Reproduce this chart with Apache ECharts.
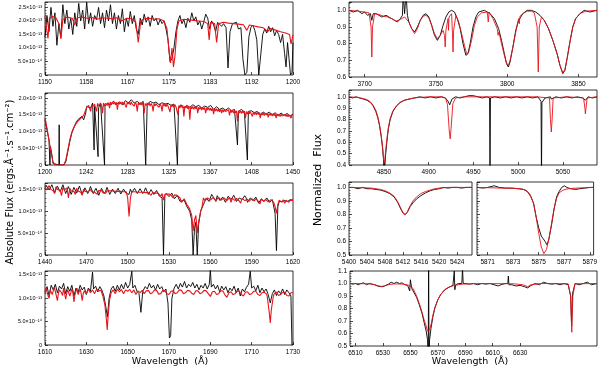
<!DOCTYPE html>
<html>
<head>
<meta charset="utf-8">
<script src="https://cdn.jsdelivr.net/npm/echarts@6/dist/echarts.min.js"></script>
<style>
  html, body { margin: 0; padding: 0; background: #fff; }
  #main { width: 600px; height: 368px; }
</style>
</head>
<body>
<div id="main"></div>
<script>
// ---- absolute flux panels (units of 1e-13 erg/s/cm2/A) ----
// black = observed, red = model
const l1Obs = [[1150,1.40],[1150.4,2.20],[1150.8,1.60],[1151.2,2.50],[1151.6,1.80],[1152,2.30],[1152.4,1.10],[1152.8,1.90],[1153.2,1.40],[1153.6,2.60],[1154,1.90],[1154.4,2.40],[1154.8,1.70],[1155.2,2.10],[1155.6,1.50],[1156,2.30],[1156.4,1.80],[1156.8,2.65],[1157.2,2.00],[1157.6,2.40],[1158,1.70],[1158.4,2.70],[1158.8,1.90],[1159.2,2.30],[1159.6,1.80],[1160,2.20],[1160.4,2.05],[1160.8,2.50],[1161.2,1.90],[1161.6,2.30],[1162,1.75],[1162.4,2.40],[1162.8,2.00],[1163.2,2.60],[1163.6,1.90],[1164,2.30],[1164.4,1.70],[1164.8,2.20],[1165.2,1.90],[1165.6,2.45],[1166,1.60],[1166.4,2.10],[1166.8,1.80],[1167.2,2.35],[1167.6,1.90],[1168,2.20],[1168.4,1.70],[1168.8,1.50],[1169.2,2.10],[1169.6,1.85],[1170,2.25],[1170.4,1.95],[1170.8,2.15],[1171.2,1.80],[1171.6,2.20],[1172,2.00],[1172.4,2.10],[1172.8,1.85],[1173.2,2.05],[1173.6,1.90],[1174,2.00],[1174.4,1.70],[1174.8,1.30],[1175.2,0.50],[1175.6,0.60],[1176,1.00],[1176.4,1.60],[1176.8,2.00],[1177.2,2.20],[1177.6,1.90],[1178,2.05],[1178.4,1.75],[1178.8,2.10],[1179.2,1.95],[1179.6,2.30],[1180,2.00],[1180.4,2.15],[1180.8,1.85],[1181.2,2.00],[1181.6,1.70],[1182,1.95],[1182.4,2.25],[1182.8,2.10],[1183.2,1.70],[1183.6,2.00],[1184,1.85],[1184.4,1.60],[1184.8,1.95],[1185.2,2.00],[1185.6,1.80],[1186,1.90],[1186.5,1.75],[1186.9,0.26],[1187.3,1.60],[1187.8,1.90],[1188.2,1.85],[1188.6,1.95],[1189,1.70],[1189.5,1.75],[1189.9,0.60],[1190.3,0.00],[1190.7,0.10],[1191.1,1.40],[1191.5,1.75],[1191.9,1.85],[1192.3,1.65],[1192.7,1.30],[1193.1,0.00],[1193.5,0.05],[1193.9,1.50],[1194.3,1.70],[1194.7,1.55],[1195.1,1.80],[1195.5,1.60],[1195.9,1.75],[1196.3,1.45],[1196.7,1.65],[1197.1,1.50],[1197.5,1.20],[1197.9,1.50],[1198.3,0.80],[1198.6,0.30],[1198.9,1.20],[1199.2,0.60],[1199.5,0.00],[1199.8,0.10],[1200,1.20]];
const l1Mod = [[1150,2.18],[1150.4,2.15],[1150.6,1.35],[1150.9,2.10],[1151.5,2.16],[1152.2,2.12],[1152.8,1.90],[1153.2,1.33],[1153.6,2.05],[1154.5,2.14],[1155.5,2.10],[1156,1.85],[1156.5,2.12],[1157.5,2.14],[1158.5,2.10],[1159.5,2.13],[1160.5,2.06],[1161.5,2.12],[1162.5,2.10],[1163.5,2.08],[1164.5,2.12],[1165.5,2.00],[1166.5,2.10],[1167.5,2.08],[1168.3,1.95],[1168.8,1.20],[1169.3,2.00],[1170,2.08],[1171,2.10],[1172,2.06],[1173,2.08],[1174,2.00],[1174.6,1.70],[1175,0.90],[1175.3,0.45],[1175.6,1.00],[1175.9,0.30],[1176.2,0.70],[1176.6,1.70],[1177,2.00],[1178,2.06],[1179,2.04],[1180,2.02],[1181,2.00],[1182,1.98],[1182.8,1.90],[1183.1,1.30],[1183.4,1.95],[1184.2,1.90],[1184.6,1.20],[1185,1.90],[1186,1.95],[1187,1.92],[1188,1.90],[1189,1.88],[1190,1.86],[1190.7,1.65],[1191.2,1.85],[1192,1.82],[1193,1.78],[1194,1.75],[1194.9,1.60],[1195.5,1.72],[1196.5,1.66],[1197.5,1.60],[1198.5,1.55],[1199.3,1.50],[1199.6,1.15],[1200,1.48]];

const l2Obs = [[1200,1.35],[1202,1.05],[1204,0.75],[1205,0.0],[1205.5,0.55],[1207,0.30],[1208,0.05],[1210,0.0],[1214,0.0],[1214.3,1.20],[1214.6,0.0],[1219,0.0],[1221,0.10],[1223,0.40],[1225,0.70],[1227,0.95],[1229,1.10],[1231,1.25],[1233,1.35],[1235,1.30],[1237,1.45],[1239,1.35],[1241,1.55],[1242,1.75],[1244,1.80],[1246,1.70],[1248,1.85],[1249.5,0.45],[1250,1.75],[1252,1.80],[1253.5,0.25],[1254,1.70],[1256,1.85],[1258,1.80],[1260,0.0],[1260.5,1.75],[1263,1.85],[1266,1.80],[1269,1.90],[1272,1.82],[1275,1.88],[1278,1.80],[1281,1.92],[1284,1.85],[1287,1.95],[1290,1.85],[1293,1.90],[1296,1.82],[1299,1.90],[1301.5,0.0],[1302.5,0.0],[1303,1.80],[1306,1.90],[1309,1.85],[1312,1.88],[1315,1.80],[1318,1.86],[1321,1.82],[1324,1.84],[1327,1.78],[1330,1.82],[1333.5,0.0],[1334.5,1.70],[1337,1.80],[1340,1.70],[1343,1.78],[1346,1.72],[1349,1.80],[1352,1.74],[1355,1.78],[1358,1.70],[1361,1.76],[1364,1.72],[1367,1.78],[1370,1.66],[1373,1.74],[1376,1.66],[1379,1.70],[1382,1.64],[1385,1.70],[1388,1.62],[1391,1.66],[1394,0.60],[1395,1.60],[1398,1.66],[1401,1.58],[1404,0.15],[1405,1.60],[1408,1.62],[1411,1.56],[1414,1.60],[1417,1.50],[1420,1.58],[1423,1.52],[1426,1.58],[1429,1.50],[1432,1.56],[1435,1.48],[1438,1.55],[1441,1.48],[1444,1.54],[1447,1.46],[1450,1.52]];
const l2Mod = [[1200,1.40],[1202,1.10],[1204,0.75],[1206,0.40],[1208,0.10],[1210,0.0],[1219,0.0],[1221,0.15],[1223,0.45],[1225,0.75],[1227,0.98],[1229,1.12],[1231,1.22],[1233,1.30],[1235,1.36],[1237,1.42],[1239,1.48],[1241,1.52],
  [1242,1.72],[1244,1.78],[1246,1.60],[1247,1.80],[1248,1.74],[1250,1.82],[1251,1.70],[1252,1.60],[1253,1.84],[1254,1.76],[1256,1.85],[1257,1.78],[1258,1.55],[1259,1.85],[1260,1.76],[1261,1.84],[1262,1.86],[1263,1.78],[1264,1.86],[1265,1.70],[1266,1.88],[1267,1.80],[1268,1.88],[1269,1.82],[1270,1.88],[1271,1.80],[1272,1.87],[1273,1.65],[1274,1.88],[1275,1.81],[1276,1.88],[1277,1.82],[1278,1.88],[1279,1.80],[1280,1.87],[1281,1.78],[1282,1.72],[1283,1.88],[1284,1.82],[1285,1.88],[1286,1.80],[1287,1.88],[1288,1.82],[1289,1.87],[1290,1.76],[1291,1.88],[1292,1.81],[1293,1.60],[1294,1.86],[1295,1.80],[1296,1.87],[1297,1.79],[1298,1.86],[1299,1.78],[1300,1.55],[1301,1.84],[1302,1.78],[1303,1.85],[1304,1.79],[1305,1.85],[1306,1.76],[1307,1.84],[1308,1.78],[1309,1.60],[1310,1.84],[1311,1.77],[1312,1.84],[1313,1.78],[1314,1.83],[1315,1.72],[1316,1.83],[1317,1.77],[1318,1.60],[1319,1.82],[1320,1.76],[1321,1.82],[1322,1.74],[1323,1.82],[1324,1.76],[1325,1.81],[1326,1.58],[1327,1.80],[1328,1.74],[1329,1.81],[1330,1.72],[1331,1.80],[1332,1.74],[1333,1.79],[1334,1.50],[1335,1.78],[1336,1.70],[1337,1.79],[1338,1.72],[1339,1.78],[1340,1.45],[1341,1.76],[1342,1.70],[1343,1.77],[1344,1.68],[1345,1.76],[1346,1.35],[1347,1.75],[1348,1.68],[1349,1.75],[1350,1.66],[1351,1.74],[1352,1.68],[1353,1.74],[1354,1.55],[1355,1.73],[1356,1.66],[1357,1.73],[1358,1.64],[1359,1.72],[1360,1.66],[1361,1.72],[1362,1.55],[1363,1.71],[1364,1.64],[1365,1.71],[1366,1.63],[1367,1.70],[1368,1.62],[1369,1.69],[1370,1.52],[1371,1.68],[1372,1.61],[1373,1.68],[1374,1.60],[1375,1.67],[1376,1.59],[1377,1.67],[1378,1.55],[1379,1.66],[1380,1.58],[1381,1.66],[1382,1.60],[1383,1.65],[1384,1.57],[1385,1.65],[1386,1.48],[1387,1.64],[1388,1.57],[1389,1.64],[1390,1.55],[1391,1.63],[1392,1.56],[1393,1.62],[1394,1.30],[1395,1.62],[1396,1.55],[1397,1.62],[1398,1.54],[1399,1.61],[1400,1.55],[1401,1.61],[1402,1.40],[1403,1.60],[1404,1.52],[1405,1.60],[1406,1.53],[1407,1.59],[1408,1.52],[1409,1.45],[1410,1.58],[1411,1.51],[1412,1.58],[1413,1.50],[1414,1.57],[1415,1.51],[1416,1.57],[1417,1.40],[1418,1.56],[1419,1.49],[1420,1.56],[1421,1.48],[1422,1.55],[1423,1.49],[1424,1.55],[1425,1.42],[1426,1.54],[1427,1.48],[1428,1.54],[1429,1.46],[1430,1.53],[1431,1.47],[1432,1.53],[1433,1.40],[1434,1.52],[1435,1.46],[1436,1.52],[1437,1.45],[1438,1.52],[1439,1.46],[1440,1.51],[1441,1.42],[1442,1.51],[1443,1.45],[1444,1.51],[1445,1.44],[1446,1.50],[1447,1.45],[1448,1.40],[1449,1.50],[1450,1.50]];

const l3Obs = [[1440,1.50],[1441,1.58],[1442,1.62],[1443,1.48],[1444,1.45],[1445,1.60],[1446,1.58],[1447,1.42],[1448,1.40],[1449,1.57],[1450,1.55],[1451,1.44],[1452,1.48],[1453,1.60],[1454,1.58],[1455,1.40],[1456,1.42],[1457,1.56],[1458,1.55],[1459,1.38],[1460,1.35],[1461,1.54],[1462,1.52],[1463,1.41],[1464,1.45],[1465,1.57],[1466,1.55],[1467,1.38],[1468,1.40],[1469,1.53],[1470,1.52],[1471,1.40],[1472,1.46],[1473,1.56],[1474,1.55],[1475,1.40],[1476,1.42],[1477,1.52],[1478,1.50],[1479,1.36],[1480,1.38],[1481,1.52],[1482,1.50],[1483,1.40],[1484,1.45],[1485,1.54],[1486,1.52],[1487,1.38],[1488,1.40],[1489,1.50],[1490,1.48],[1491,1.40],[1492,1.44],[1493,1.52],[1494,1.50],[1495,1.39],[1496,1.42],[1497,1.50],[1498,1.48],[1499,1.40],[1500,1.44],[1501,1.38],[1502,1.50],[1503,1.42],[1504,1.46],[1505,1.52],[1506,1.55],[1507,1.40],[1508,1.42],[1509,1.51],[1510,1.50],[1511,1.40],[1512,1.45],[1513,1.53],[1514,1.52],[1515,1.38],[1516,1.40],[1517,1.49],[1518,1.48],[1519,1.38],[1520,1.42],[1521,1.47],[1522,1.45],[1523,1.34],[1524,1.38],[1525,1.30],[1526,0.0],[1527,1.35],[1528,1.40],[1529,1.42],[1530,1.33],[1531,1.36],[1532,1.41],[1533,1.40],[1534,1.28],[1535,1.30],[1536,1.36],[1537,1.34],[1538,1.22],[1539,1.20],[1541,1.25],[1543,1.10],[1545,1.00],[1546.5,0.80],[1547.5,0.0],[1548.5,0.60],[1549.5,0.75],[1550.5,0.0],[1551.5,0.70],[1553,1.00],[1555,1.15],[1556,1.22],[1557,1.30],[1558,1.34],[1559,1.22],[1560,1.20],[1561,1.38],[1562,1.33],[1563,1.28],[1564,1.22],[1565,1.35],[1566,1.34],[1567,1.24],[1568,1.20],[1569,1.32],[1570,1.33],[1571,1.20],[1572,1.24],[1573,1.34],[1574,1.36],[1575,1.26],[1576,1.22],[1577,1.36],[1578,1.33],[1579,1.22],[1580,1.18],[1581,1.30],[1582,1.32],[1583,1.26],[1584,1.22],[1585,1.35],[1586,1.30],[1587,1.20],[1588,1.18],[1589,1.30],[1590,1.32],[1591,1.24],[1592,1.20],[1593,1.32],[1594,1.30],[1595,1.18],[1596,1.16],[1597,1.28],[1598,1.30],[1599,1.22],[1600,1.18],[1601,1.30],[1602,1.28],[1603,1.20],[1604,1.18],[1605,1.26],[1606,1.22],[1607,0.95],[1608,0.10],[1609,1.10],[1610,1.22],[1611,1.26],[1612,1.22],[1613,1.18],[1614,1.24],[1615,1.28],[1616,1.22],[1617,1.20],[1618,1.26],[1619,1.22],[1620,1.25]];
const l3Mod = [[1440,1.55],[1441,1.48],[1442,1.45],[1443,1.58],[1444,1.50],[1445,1.54],[1446,1.46],[1447,1.40],[1448,1.56],[1449,1.49],[1450,1.52],[1451,1.47],[1452,1.35],[1453,1.54],[1454,1.48],[1455,1.45],[1456,1.53],[1457,1.30],[1458,1.52],[1459,1.46],[1460,1.50],[1461,1.45],[1462,1.38],[1463,1.52],[1464,1.46],[1465,1.48],[1466,1.43],[1467,1.36],[1468,1.50],[1469,1.45],[1470,1.48],[1471,1.44],[1472,1.40],[1473,1.49],[1474,1.44],[1475,1.48],[1476,1.43],[1477,1.47],[1478,1.38],[1479,1.47],[1480,1.43],[1481,1.47],[1482,1.42],[1483,1.46],[1484,1.41],[1485,1.46],[1486,1.43],[1487,1.46],[1488,1.42],[1489,1.46],[1490,1.43],[1491,1.45],[1492,1.41],[1493,1.45],[1494,1.42],[1495,1.45],[1496,1.42],[1497,1.44],[1498,1.41],[1499,1.44],[1500,1.30],[1501,0.88],[1502,1.30],[1503,1.44],[1504,1.41],[1505,1.44],[1506,1.41],[1507,1.43],[1508,1.40],[1509,1.43],[1510,1.40],[1511,1.43],[1512,1.39],[1513,1.42],[1514,1.40],[1515,1.42],[1516,1.38],[1517,1.36],[1518,1.42],[1519,1.39],[1520,1.41],[1521,1.37],[1522,1.41],[1523,1.38],[1524,1.34],[1525,1.40],[1526,1.25],[1527,1.38],[1528,1.36],[1529,1.39],[1530,1.35],[1531,1.38],[1532,1.34],[1533,1.30],[1534,1.37],[1535,1.33],[1536,1.36],[1537,1.32],[1538,1.30],[1539,1.20],[1541,1.28],[1543,1.15],[1545,1.05],[1546.5,0.90],[1547.5,0.55],[1548.5,0.80],[1549.5,0.90],[1550.5,0.50],[1551.5,0.75],[1553,1.00],[1554,1.10],[1555,1.30],[1556,1.24],[1557,1.20],[1558,1.30],[1559,1.32],[1560,1.25],[1561,1.22],[1562,1.31],[1563,1.30],[1564,1.24],[1565,1.25],[1566,1.31],[1567,1.32],[1568,1.25],[1569,1.22],[1570,1.30],[1571,1.30],[1572,1.24],[1573,1.28],[1574,1.31],[1575,1.20],[1576,1.29],[1577,1.30],[1578,1.24],[1579,1.29],[1580,1.28],[1581,1.23],[1582,1.18],[1583,1.29],[1584,1.29],[1585,1.24],[1586,1.28],[1587,1.27],[1588,1.22],[1589,1.20],[1590,1.28],[1591,1.28],[1592,1.23],[1593,1.28],[1594,1.27],[1595,1.22],[1596,1.16],[1597,1.27],[1598,1.27],[1599,1.22],[1600,1.27],[1601,1.26],[1602,1.21],[1603,1.18],[1604,1.26],[1605,1.26],[1606,1.20],[1607,1.10],[1608,0.95],[1609,1.15],[1610,1.25],[1611,1.25],[1612,1.20],[1613,1.26],[1614,1.18],[1615,1.25],[1616,1.25],[1617,1.20],[1618,1.25],[1619,1.22],[1620,1.24]];

const l4Obs = [[1610,1.15],[1611,1.25],[1612,1.05],[1613,1.28],[1614,1.18],[1615,1.30],[1616,1.12],[1617,1.26],[1618,1.20],[1619,1.32],[1620,1.10],[1621,1.25],[1622,1.15],[1623,1.28],[1624,1.05],[1625,1.22],[1626,1.12],[1627,1.28],[1628,1.18],[1629,1.24],[1630,1.08],[1631,1.22],[1632,1.15],[1633,1.56],[1633.5,1.20],[1634.5,1.26],[1635.5,1.14],[1636.5,1.25],[1637.5,1.18],[1638.5,1.05],[1639.5,0.80],[1640.2,0.60],[1641,1.00],[1642,1.20],[1643,1.26],[1644,1.15],[1645,1.28],[1646,1.18],[1647,1.30],[1648,1.20],[1649,1.34],[1650,1.22],[1651,1.30],[1652,1.58],[1652.5,1.22],[1653.5,1.28],[1654.5,1.15],[1655.5,1.10],[1656.4,0.70],[1657.3,1.15],[1658.5,1.25],[1659.5,1.20],[1660.5,1.32],[1661.5,1.22],[1662.5,1.28],[1663.5,1.18],[1664.5,1.30],[1665.5,1.20],[1666.5,1.25],[1667.5,1.14],[1668.5,1.20],[1669.5,0.90],[1670.2,0.15],[1670.8,0.20],[1671.4,1.00],[1672.5,1.22],[1673.5,1.30],[1674.5,1.20],[1675.5,1.32],[1676.5,1.24],[1677.5,1.36],[1678.5,1.22],[1679.5,1.30],[1680.5,1.25],[1681.5,1.34],[1682.5,1.22],[1683.5,1.30],[1684.5,1.18],[1685.5,1.28],[1686.5,1.22],[1687.5,1.32],[1688.5,1.20],[1689.5,1.30],[1690,1.62],[1690.5,1.24],[1691.5,1.30],[1692.5,1.20],[1693.5,1.28],[1694.5,1.14],[1695.5,1.26],[1696.5,1.18],[1697.5,1.25],[1698.5,1.12],[1699.5,1.22],[1700.5,1.16],[1701.5,1.26],[1702.5,1.12],[1703.5,1.22],[1704.5,1.05],[1705.5,1.20],[1706.5,1.14],[1707.5,1.24],[1708.5,1.30],[1709.3,1.58],[1710,1.22],[1711,1.26],[1712,1.16],[1713,1.28],[1714,1.12],[1715,1.22],[1716,1.14],[1717,1.20],[1718,1.08],[1719,0.90],[1720,1.10],[1721,1.18],[1722,1.06],[1723,1.16],[1724,1.10],[1725,1.20],[1726,1.08],[1727,1.18],[1728,1.12],[1729,1.05],[1729.5,0.0],[1730,0.0]];
const l4Mod = [[1610,1.10],[1610.5,1.22],[1611,1.22],[1611.5,1.05],[1612,1.00],[1612.5,1.18],[1613,1.20],[1613.5,1.08],[1614,1.10],[1614.5,1.24],[1615,1.25],[1615.5,1.05],[1616,0.95],[1616.5,1.12],[1617,1.18],[1617.5,1.22],[1618,1.12],[1618.5,1.06],[1619,1.22],[1619.5,1.18],[1620,0.98],[1620.5,1.10],[1621,1.18],[1621.5,1.22],[1622,1.05],[1622.5,1.12],[1623,1.20],[1623.5,1.12],[1624,0.92],[1624.5,1.08],[1625,1.15],[1625.5,1.22],[1626,1.08],[1626.5,1.14],[1627,1.20],[1627.5,1.10],[1628,0.95],[1628.5,1.10],[1629,1.16],[1629.5,1.20],[1630,1.10],[1631,1.20],[1632,1.12],[1633,1.18],[1634,1.10],[1635,1.20],[1636,1.15],[1637,1.18],[1638,1.05],[1639,0.85],[1639.7,0.55],[1640.1,0.32],[1640.5,0.60],[1641.2,0.95],[1642,1.12],[1643,1.18],[1644,1.10],[1645,1.20],[1646,1.14],[1647,1.19],[1648,1.10],[1649,1.18],[1650,1.15],[1651,1.19],[1652,1.12],[1653,1.18],[1654,1.08],[1655,1.16],[1656,1.12],[1657,1.17],[1658,1.10],[1659,1.16],[1660,1.17],[1661,1.10],[1662,1.12],[1663,1.18],[1664,1.17],[1665,1.09],[1666,1.10],[1667,1.17],[1668,1.16],[1669,1.10],[1670,1.08],[1671,1.15],[1672,1.16],[1673,1.10],[1674,1.12],[1675,1.18],[1676,1.17],[1677,1.10],[1678,1.12],[1679,1.17],[1680,1.16],[1681,1.11],[1682,1.08],[1683,1.16],[1684,1.16],[1685,1.10],[1686,1.12],[1687,1.17],[1688,1.16],[1689,1.10],[1690,1.04],[1691,1.14],[1692,1.15],[1693,1.08],[1694,1.10],[1695,1.16],[1696,1.16],[1697,1.08],[1698,1.02],[1699,1.12],[1700,1.14],[1701,1.08],[1702,1.10],[1703,1.16],[1704,1.15],[1705,1.08],[1706,1.05],[1707,1.13],[1708,1.14],[1709,1.08],[1710,1.10],[1711,1.15],[1712,1.15],[1713,1.08],[1714,1.06],[1715,1.12],[1716,1.13],[1717,1.10],[1717.5,1.05],[1718.5,0.70],[1719,0.47],[1719.5,0.75],[1720.5,1.05],[1721,1.10],[1722,1.13],[1723,1.06],[1724,1.08],[1725,1.13],[1726,1.13],[1727,1.06],[1728,1.05],[1729,1.12],[1730,1.12]];

// ---- normalized flux panels ----
const r1Obs = [[3689,1.00],[3692,0.99],[3695,1.00],[3698,0.98],[3700,0.99],[3702,0.97],[3704,0.98],[3705,0.94],[3706,0.98],[3708,0.98],[3710,0.97],[3712,0.96],[3713,0.95],[3715,0.97],[3717,0.96],[3719,0.95],[3721,0.94],[3723,0.93],[3725,0.95],[3726.5,0.97],[3727,1.10],[3728,0.98],[3729,1.10],[3730,0.97],[3731,0.93],[3733,0.89],[3735,0.87],[3737,0.90],[3739,0.94],[3741,0.97],[3743,0.98],[3745,0.96],[3747,0.91],[3749,0.85],[3751,0.82],[3753,0.85],[3755,0.91],[3757,0.96],[3759,0.99],[3761,1.00],[3763,0.99],[3765,0.95],[3767,0.89],[3769,0.80],[3771,0.73],[3772.5,0.74],[3774,0.80],[3776,0.90],[3778,0.96],[3780,0.99],[3784,1.00],[3788,0.98],[3791,0.95],[3794,0.89],[3796,0.82],[3798,0.74],[3799.5,0.68],[3800.8,0.66],[3802,0.69],[3804,0.78],[3806,0.88],[3808,0.94],[3811,0.98],[3814,1.00],[3817,1.00],[3820,0.99],[3823,0.97],[3826,0.94],[3829,0.89],[3832,0.82],[3835,0.74],[3837,0.67],[3839,0.62],[3840.5,0.64],[3842,0.71],[3844,0.81],[3846,0.90],[3848,0.95],[3851,0.98],[3854,1.00],[3858,0.99],[3863,1.00]];
const r1Mod = [[3689,1.00],[3695,0.995],[3700,0.99],[3703,0.985],[3704.5,0.90],[3705,0.72],[3705.5,0.90],[3707,0.98],[3710,0.975],[3713,0.965],[3716,0.96],[3719,0.95],[3722,0.935],[3725,0.945],[3728,0.96],[3731,0.93],[3733,0.89],[3735,0.86],[3737,0.89],[3739,0.94],[3741,0.965],[3743,0.97],[3745,0.955],[3747,0.91],[3749,0.86],[3751,0.83],[3753,0.85],[3755,0.88],[3756,0.85],[3756.5,0.78],[3757,0.88],[3758.5,0.95],[3758.8,0.88],[3759.2,0.96],[3761,0.98],[3761.6,0.86],[3762,0.75],[3762.4,0.88],[3764,0.97],[3766,0.93],[3768,0.86],[3770,0.79],[3771.5,0.74],[3773,0.75],[3775,0.82],[3777,0.91],[3779,0.96],[3782,0.985],[3786,0.99],[3786.7,0.93],[3787.3,0.99],[3790,0.95],[3793,0.89],[3793.6,0.85],[3794.2,0.87],[3796,0.80],[3798,0.73],[3799.5,0.685],[3800.8,0.67],[3802,0.70],[3804,0.78],[3806,0.87],[3808,0.95],[3808.5,0.92],[3809,0.965],[3811,0.98],[3814,0.995],[3817,0.995],[3819,0.985],[3821,0.90],[3821.8,0.63],[3822.5,0.90],[3824,0.96],[3826,0.94],[3829,0.89],[3832,0.82],[3835,0.74],[3837,0.67],[3839,0.625],[3840.5,0.645],[3842,0.71],[3844,0.81],[3846,0.90],[3848,0.95],[3851,0.98],[3855,0.995],[3863,1.00]];

const r2Obs = [[4811,1.00],[4815,0.99],[4819,1.00],[4823,0.99],[4827,0.98],[4831,0.97],[4835,0.95],[4838,0.92],[4841,0.87],[4843,0.82],[4845,0.75],[4847,0.65],[4848.5,0.55],[4849.5,0.45],[4850.2,0.30],[4851,0.30],[4852,0.50],[4853.5,0.62],[4855,0.72],[4857,0.80],[4860,0.87],[4864,0.92],[4868,0.95],[4873,0.97],[4878,0.98],[4884,0.99],[4890,1.00],[4896,0.99],[4902,1.00],[4908,0.99],[4914,1.00],[4918,0.99],[4921,0.97],[4923.5,0.93],[4926,0.98],[4930,1.00],[4935,0.99],[4940,1.00],[4945,1.01],[4950,1.01],[4955,1.00],[4960,0.99],[4965,1.00],[4968,0.99],[4968.5,0.30],[4969,0.99],[4974,1.00],[4980,0.99],[4986,1.00],[4992,0.99],[4998,1.00],[5004,0.99],[5010,1.00],[5016,0.99],[5022,1.00],[5025.5,0.96],[5026,0.30],[5026.5,0.95],[5030,0.99],[5036,1.00],[5037,0.98],[5042,1.00],[5048,0.99],[5054,1.00],[5060,0.99],[5066,1.00],[5072,0.99],[5075,0.97],[5078,1.00],[5083,0.99],[5088,1.00]];
const r2Mod = [[4811,1.00],[4820,0.995],[4827,0.985],[4831,0.975],[4835,0.955],[4838,0.925],[4841,0.88],[4843,0.83],[4845,0.76],[4847,0.66],[4848.5,0.56],[4849.5,0.47],[4850.2,0.42],[4851,0.45],[4852,0.53],[4853.5,0.64],[4855,0.73],[4857,0.81],[4860,0.875],[4864,0.92],[4868,0.95],[4873,0.97],[4878,0.98],[4884,0.99],[4890,0.995],[4900,1.00],[4915,1.00],[4919,0.99],[4921,0.93],[4923,0.70],[4924,0.63],[4925,0.72],[4927,0.94],[4930,0.99],[4940,1.00],[4960,1.00],[4980,1.00],[5000,1.00],[5020,1.00],[5035,0.99],[5036,0.80],[5037,0.69],[5038,0.82],[5039,0.99],[5055,1.00],[5073,0.99],[5074.5,0.90],[5075,0.85],[5076,0.92],[5077,0.99],[5088,1.00]];

const r3aObs = [[5400,1.00],[5401,1.00],[5402,0.99],[5403,1.00],[5404,0.99],[5405,0.99],[5406,0.985],[5407,0.98],[5408,0.97],[5409,0.955],[5410,0.93],[5410.8,0.89],[5411.5,0.84],[5412,0.81],[5412.5,0.80],[5413,0.82],[5413.6,0.86],[5414.3,0.89],[5415,0.915],[5416,0.94],[5417,0.96],[5418,0.975],[5419,0.985],[5420,0.99],[5421,1.00],[5422,0.995],[5423,1.00],[5424,1.00],[5425,0.995],[5426,1.00],[5427.3,1.00]];
const r3aMod = [[5400,1.00],[5403,0.998],[5405,0.995],[5406,0.99],[5407,0.985],[5408,0.975],[5409,0.96],[5410,0.935],[5410.8,0.895],[5411.5,0.845],[5412,0.81],[5412.4,0.795],[5412.9,0.815],[5413.5,0.86],[5414.2,0.90],[5415,0.93],[5416,0.955],[5417,0.97],[5418,0.98],[5419,0.99],[5420,0.995],[5422,1.00],[5427.3,1.00]];

const r3bObs = [[5870.2,1.00],[5870.6,0.995],[5871,1.00],[5871.5,1.012],[5871.9,1.00],[5872.4,0.995],[5872.9,0.995],[5873.4,0.99],[5873.8,0.985],[5874.1,0.97],[5874.4,0.93],[5874.6,0.88],[5874.8,0.78],[5875,0.70],[5875.2,0.64],[5875.35,0.62],[5875.5,0.60],[5875.65,0.575],[5875.8,0.62],[5876,0.72],[5876.2,0.84],[5876.4,0.93],[5876.6,0.97],[5876.8,1.00],[5877,1.012],[5877.2,1.00],[5877.5,0.99],[5877.9,0.985],[5878.2,0.99],[5878.6,0.995],[5879,1.00],[5879.3,1.00]];
const r3bMod = [[5870.2,1.00],[5871,0.998],[5872,0.995],[5873,0.993],[5873.6,0.99],[5874,0.98],[5874.3,0.95],[5874.6,0.88],[5874.8,0.78],[5875,0.66],[5875.2,0.56],[5875.4,0.51],[5875.6,0.54],[5875.8,0.62],[5876,0.73],[5876.2,0.84],[5876.4,0.92],[5876.6,0.96],[5876.9,0.98],[5877.3,0.99],[5878,0.995],[5879.3,1.00]];

const r4Obs = [[6506,1.00],[6508,0.995],[6510,1.00],[6512,0.99],[6514,1.00],[6516,1.005],[6518,0.99],[6520,1.00],[6522,0.995],[6524,0.99],[6526,0.98],[6528,0.975],[6530,0.975],[6532,0.985],[6534,0.995],[6536,1.01],[6538,1.00],[6540,1.01],[6542,1.00],[6544,1.005],[6546,0.99],[6548,0.985],[6549.5,0.94],[6550,1.03],[6551,0.96],[6552.5,0.93],[6554.5,0.89],[6556.5,0.83],[6558.5,0.76],[6560,0.69],[6561.5,0.62],[6562.5,0.55],[6563,0.40],[6563.3,1.15],[6563.6,0.40],[6564,0.55],[6565,0.64],[6566.5,0.74],[6568,0.81],[6570,0.87],[6572,0.91],[6575,0.95],[6578,0.97],[6581,0.985],[6582,1.10],[6582.4,0.95],[6583,0.99],[6585,1.00],[6587.5,1.00],[6588,1.12],[6588.5,1.00],[6590,1.00],[6593,0.995],[6596,1.00],[6599,0.99],[6602,1.00],[6605,0.995],[6608,1.00],[6611,0.99],[6614,0.98],[6616,0.99],[6619,1.00],[6621,1.00],[6621.4,1.06],[6621.8,0.99],[6624,0.99],[6627,0.98],[6630,0.985],[6633,0.975],[6635.5,0.965],[6638,0.985],[6641,1.00],[6644,0.99],[6647,1.01],[6650,1.00],[6653,0.995],[6656,1.00],[6659,0.99],[6662,1.00],[6665,0.99],[6666.8,0.90],[6667.5,0.66],[6668.2,0.92],[6670,1.00],[6673,0.99],[6676,1.00],[6679,1.01],[6682,0.99],[6686,1.00]];
const r4Mod = [[6506,1.00],[6520,0.998],[6524,0.99],[6527,0.98],[6529,0.977],[6531,0.98],[6534,0.99],[6538,0.997],[6545,0.995],[6549,0.985],[6552,0.96],[6554.5,0.90],[6556.5,0.84],[6558.5,0.77],[6560,0.71],[6561.5,0.66],[6562.5,0.62],[6563.2,0.61],[6564,0.63],[6565,0.67],[6566.5,0.75],[6568,0.81],[6570,0.87],[6572,0.91],[6575,0.95],[6578,0.97],[6582,0.985],[6588,0.995],[6600,1.00],[6625,0.998],[6632,0.99],[6635.5,0.975],[6638,0.99],[6645,1.00],[6665,0.998],[6666.8,0.90],[6667.6,0.61],[6668.4,0.90],[6670,0.998],[6686,1.00]];

// tick positions (labels are rounded)
const l1Ticks = [1150, 1158.333, 1166.667, 1175, 1183.333, 1191.667, 1200];
const l2Ticks = [1200, 1241.667, 1283.333, 1325, 1366.667, 1408.333, 1450];
const l3Ticks = [1440, 1470, 1500, 1530, 1560, 1590, 1620];
const l4Ticks = [1610, 1630, 1650, 1670, 1690, 1710, 1730];
const r1Ticks = [3700, 3750, 3800, 3850];
const r2Ticks = [4850, 4900, 4950, 5000, 5050];
const r3aTicks = [5400, 5404, 5408, 5412, 5416, 5420, 5424];
const r3bTicks = [5871, 5873, 5875, 5877, 5879];
const r4Ticks = [6510, 6530, 6550, 6570, 6590, 6610, 6630];

const panels = [
  { obs: l1Obs, mod: l1Mod, box: [45, 2, 248, 73], x: [1150, 1200], xt: l1Ticks, y: [0, 2.7], yi: 0.5, abs: true },
  { obs: l2Obs, mod: l2Mod, box: [45, 93, 248, 72], x: [1200, 1450], xt: l2Ticks, y: [0, 2.15], yi: 0.5, abs: true },
  { obs: l3Obs, mod: l3Mod, box: [45, 183, 248, 72], x: [1440, 1620], xt: l3Ticks, y: [0, 1.64], yi: 0.5, abs: true },
  { obs: l4Obs, mod: l4Mod, box: [45, 271, 248, 74], x: [1610, 1730], xt: l4Ticks, y: [0, 1.585], yi: 0.5, abs: true },
  { obs: r1Obs, mod: r1Mod, box: [349, 2, 248, 75], x: [3689, 3863], xt: r1Ticks, y: [0.6, 1.05], yi: 0.1 },
  { obs: r2Obs, mod: r2Mod, box: [349, 90, 248, 75], x: [4811, 5088], xt: r2Ticks, y: [0.4, 1.06], yi: 0.1 },
  { obs: r3aObs, mod: r3aMod, box: [349, 182, 123, 73], x: [5400, 5427.3], xt: r3aTicks, y: [0.5, 1.04], yi: 0.1 },
  { obs: r3bObs, mod: r3bMod, box: [477, 182, 120, 73], x: [5870.16, 5879.3], xt: r3bTicks, y: [0.5, 1.04], yi: 0.1, noYLabel: true },
  { obs: r4Obs, mod: r4Mod, box: [350, 271, 247, 75], x: [6506, 6686], xt: r4Ticks, y: [0.5, 1.1], yi: 0.1 }
];

const font = 'Liberation Sans, DejaVu Sans, sans-serif';
const titleFont = 'DejaVu Sans, sans-serif';

function absLabel(v) {
  if (Math.abs(v) < 1e-9) return '0';
  if (v < 1) return (v * 10).toFixed(1) + '×10⁻¹⁴';
  return v.toFixed(1) + '×10⁻¹³';
}

const grid = [], xAxis = [], yAxis = [], series = [];
panels.forEach(function (p, i) {
  grid.push({
    left: p.box[0], top: p.box[1], width: p.box[2], height: p.box[3],
    show: true, borderColor: '#000', borderWidth: 0.8, backgroundColor: '#fff'
  });
  xAxis.push({
    type: 'value', gridIndex: i, min: p.x[0], max: p.x[1],
    axisLine: { show: false },
    splitLine: { show: false },
    axisTick: { inside: true, length: 3, lineStyle: { color: '#000', width: 0.7 }, customValues: p.xt },
    axisLabel: {
      customValues: p.xt, fontSize: 6.5, color: '#000', fontFamily: font, margin: 4,
      formatter: function (v) { return String(Math.round(v)); }
    }
  });
  yAxis.push({
    type: 'value', gridIndex: i, min: p.y[0], max: p.y[1], interval: p.yi,
    axisLine: { show: false },
    splitLine: { show: false },
    axisTick: { inside: true, length: 3, lineStyle: { color: '#000', width: 0.7 } },
    minorTick: { show: true, splitNumber: 5, length: 1.5, lineStyle: { color: '#000', width: 0.5 } },
    axisLabel: {
      show: !p.noYLabel, fontSize: p.abs ? 5.5 : 6.5, color: '#000', fontFamily: font, margin: 3,
      showMaxLabel: false,
      formatter: p.abs ? absLabel : function (v) { return v.toFixed(1); }
    }
  });
  series.push({
    type: 'line', xAxisIndex: i, yAxisIndex: i, data: p.obs, showSymbol: false,
    lineStyle: { color: '#000', width: 0.9 }, clip: true, silent: true
  });
  series.push({
    type: 'line', xAxisIndex: i, yAxisIndex: i, data: p.mod, showSymbol: false,
    lineStyle: { color: '#e8141b', width: p.abs ? 1.1 : 0.9 }, clip: true, silent: true
  });
});

// R4 shows the 1.1 label at the top edge
yAxis[8].axisLabel.showMaxLabel = true;

const chart = echarts.init(document.getElementById('main'), null, { renderer: 'canvas' });
chart.setOption({
  animation: false,
  backgroundColor: '#fff',
  grid: grid,
  xAxis: xAxis,
  yAxis: yAxis,
  series: series,
  graphic: [
    { type: 'text', x: 10, y: 182, rotation: Math.PI / 2, style: {
        text: 'Absolute Flux (ergs.Å⁻¹.s⁻¹.cm⁻²)', font: '10px ' + titleFont, fill: '#000',
        textAlign: 'center', textVerticalAlign: 'middle' } },
    { type: 'text', x: 318, y: 180, rotation: Math.PI / 2, style: {
        text: 'Normalized  Flux', font: '11px ' + titleFont, fill: '#000',
        textAlign: 'center', textVerticalAlign: 'middle' } },
    { type: 'text', x: 170, y: 362, style: {
        text: 'Wavelength  (Å)', font: '9.5px ' + titleFont, fill: '#000',
        textAlign: 'center', textVerticalAlign: 'middle' } },
    { type: 'text', x: 470, y: 362, style: {
        text: 'Wavelength  (Å)', font: '9.5px ' + titleFont, fill: '#000',
        textAlign: 'center', textVerticalAlign: 'middle' } }
  ]
});
</script>
</body>
</html>
